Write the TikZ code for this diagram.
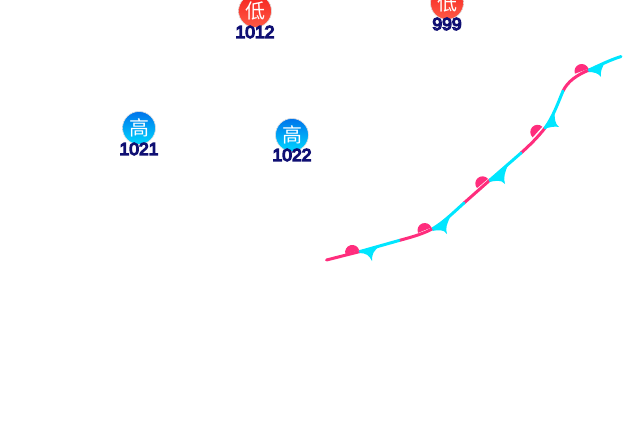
\documentclass[tikz,border=0pt]{standalone}
\usepackage{fontspec}
\setmainfont{Liberation Sans}
\newfontfamily\cjkfont{Noto Sans CJK SC}
\definecolor{warmcol}{RGB}{255,45,125}
\definecolor{coldcol}{RGB}{0,230,255}
\definecolor{highcol}{RGB}{0,115,235}
\definecolor{highcolb}{RGB}{0,215,255}
\definecolor{lowcol}{RGB}{245,35,30}
\definecolor{lowcolb}{RGB}{255,90,70}
\newcommand{\outlined}[1]{\special{pdf:code q 2 Tr 1.25 w 0.06 0.06 0.45 RG}#1\special{pdf:code Q}}
\newcommand{\warmbump}[2]{\fill[warmcol] (#1) ++(#2+180:7.2pt) arc[start angle=#2+180,end angle=#2,radius=7.2pt] -- cycle;}
\tikzset{
  highsym/.style={circle,inner sep=0pt,minimum size=33pt,draw=gray!25,line width=0.6pt,
    top color=highcol,bottom color=highcolb,text=white,font=\cjkfont\fontsize{20}{20}\selectfont},
  lowsym/.style={circle,inner sep=0pt,minimum size=33pt,draw=gray!25,line width=0.6pt,
    top color=lowcol,bottom color=lowcolb,text=white,font=\cjkfont\fontsize{20}{20}\selectfont},
  numlabel/.style={inner sep=0pt,text=white,font=\fontsize{17.5}{18}\selectfont},
  warmseg/.style={warmcol,line width=3pt,line cap=round},
  coldseg/.style={coldcol,line width=3pt,line cap=round}
}
\begin{document}
\begin{tikzpicture}[x=1pt,y=-1pt]
  \useasboundingbox (0,0) rectangle (640,440);
  \clip (0,0) rectangle (640,440);
  \node[lowsym] (lowa) at (255,11) {低};
  \node[numlabel] (lowanum) at (255,32) {\outlined{1012}};
  \node[lowsym] (lowb) at (447,3) {低};
  \node[numlabel] (lowbnum) at (447,24) {\outlined{999}};
  \node[highsym] (higha) at (139,128) {高};
  \node[numlabel] (highanum) at (139,149) {\outlined{1021}};
  \node[highsym] (highb) at (292,135) {高};
  \node[numlabel] (highbnum) at (292,155) {\outlined{1022}};
  % warm pieces of the front
  \draw[warmseg] (326.5,260)--(360,251.5);
  \draw[warmseg] (399,240.5) .. controls (412,237) and (423,234) .. (433,228.5);
  \draw[warmseg] (464,203)--(490,180);
  \draw[warmseg] (521,153) .. controls (530,145) and (538,137) .. (545,128);
  \draw[warmseg] (563,91) .. controls (568,81) and (577,75) .. (589,70);
  % cold pieces of the front
  \draw[coldseg] (360,251.5)--(399,240.5);
  \draw[coldseg] (433,228.5) .. controls (444,222) and (454,212) .. (464,203);
  \draw[coldseg] (490,180)--(521,153);
  \draw[coldseg] (545,128) .. controls (553,117) and (558,103) .. (563,91);
  \draw[coldseg] (589,70) .. controls (600,65) and (610,60) .. (621,56.5);
  % teeth
  \fill[coldcol] (359,253) .. controls (366,253) and (369,255) .. (372,261) .. controls (372,254) and (373,251) .. (381,245) -- cycle;
  \fill[coldcol] (432,231) .. controls (438,230) and (444,229) .. (447,234) .. controls (445,228) and (447,224) .. (451,215) -- cycle;
  \fill[coldcol] (489,182) .. controls (495,181) and (501,179) .. (505,184) .. controls (503,178) and (505,172) .. (508,165) -- cycle;
  \fill[coldcol] (544,129) .. controls (550,127) and (555,126) .. (559,127) .. controls (555,124) and (554,118) .. (555,110) -- cycle;
  \fill[coldcol] (588,72) .. controls (594,72) and (598,73) .. (601,77) .. controls (600,72) and (602,67) .. (606,61) -- cycle;
  % bumps
  \warmbump{352.3,252.2}{15}
  \warmbump{424.7,230.2}{22}
  \warmbump{482.5,183.5}{40}
  \warmbump{537.5,132}{48}
  \warmbump{581.7,71.2}{20}
\end{tikzpicture}
\end{document}
